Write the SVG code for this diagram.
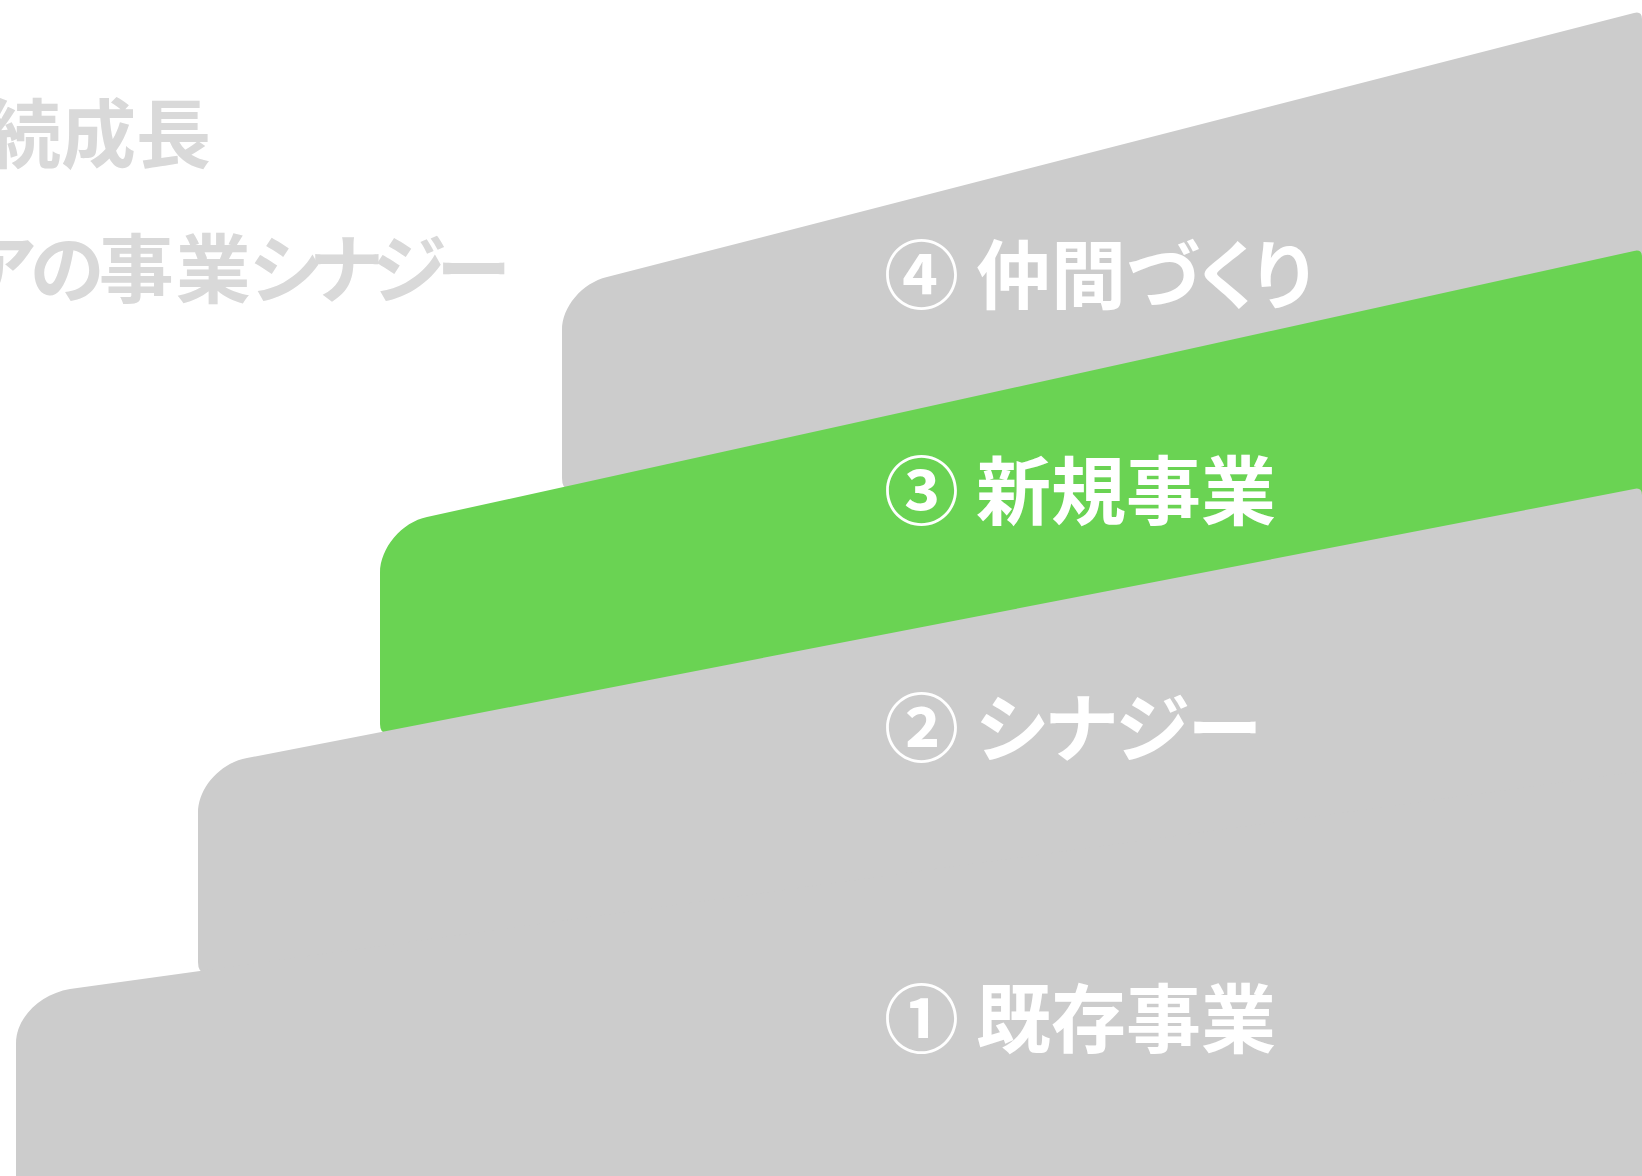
<svg xmlns="http://www.w3.org/2000/svg" width="1642" height="1176" viewBox="0 0 1642 1176">
<style>
.step{fill:#cccccc}
.green{fill:#6ad353}
.title{font-family:"Noto Sans CJK JP","Noto Sans CJK SC",sans-serif;font-weight:700;font-size:75px;fill:#d9d9d9;font-feature-settings:"palt"}
.label{font-family:"Noto Sans CJK JP","Noto Sans CJK SC",sans-serif;font-weight:700;font-size:75px;fill:#ffffff;font-feature-settings:"palt"}
</style>
<rect width="1642" height="1176" fill="#ffffff"/>
<g id="title">
<text class="title" x="-14" y="162">続成長</text>
<text class="title" x="-35" y="297" dx="0 -5 -5 2 -1 -9 -8 -8">アの事業シナジー</text>
</g>
<g id="step4">
<path class="step" d="M562,478 L562,330 C562,307 582,283 607,277 L1634,13 Q1642,11 1642,19 L1650,19 L1650,300 L570,489 Q562,490 562,478 Z"/>
</g>
<g id="step3">
<path class="green" d="M380,724 L380,573 C380,548 402,522 427,517 L1634,251 Q1642,249 1642,257 L1650,257 L1650,520 L388,733 Q380,734 380,724 Z"/>
</g>
<g id="step2">
<path class="step" d="M198,962 L198,813 C198,788 220,763 247,758 L1634,489 Q1642,487 1642,495 L1650,495 L1650,900 L207,973 Q198,974 198,962 Z"/>
</g>
<g id="step1">
<path class="step" d="M16,1166 L16,1043 C16,1018 40,994 70,989 L1650,770 L1650,1190 L26,1190 Q16,1190 16,1176 Z"/>
</g>
<g id="labels">
<text class="label" x="884" y="303">④ 仲間づくり</text>
<text class="label" x="884" y="519">③ 新規事業</text>
<text class="label" x="884" y="756">② シナジー</text>
<text class="label" x="884" y="1047">① 既存事業</text>
</g>
</svg>
